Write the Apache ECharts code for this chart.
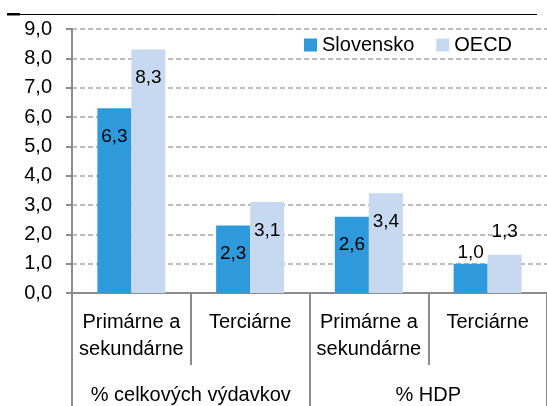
<!DOCTYPE html>
<html>
<head>
<meta charset="utf-8">
<script src="https://cdn.jsdelivr.net/npm/echarts@6/dist/echarts.min.js"></script>
<style>
  html, body { margin: 0; padding: 0; background: #fff; }
  #chart { width: 547px; height: 406px; }
</style>
</head>
<body>
<div id="chart"></div>
<script>
// kategórie a skupiny
const categories = ["Primárne a\nsekundárne", "Terciárne", "Primárne a\nsekundárne", "Terciárne"];
const groups = ["% celkových výdavkov", "% HDP"];
const slovensko = [6.3, 2.3, 2.6, 1.0];
const oecd = [8.3, 3.1, 3.4, 1.3];
const seriesNames = ["Slovensko", "OECD"];

const font = "'Liberation Sans', Arial, sans-serif";
const gray = "#8c8c8c";

const chart = echarts.init(document.getElementById("chart"));

// popisky v poslednej skupine sú nad stĺpcami
function withLabels(values, lastDistance) {
  return values.map((v, i) => {
    if (i === values.length - 1) {
      return { value: v, label: { position: "top", distance: lastDistance } };
    }
    return v;
  });
}

const fmt = (v) => Number(v).toFixed(1).replace(".", ",");

chart.setOption({
  animation: false,
  textStyle: { fontFamily: font },
  grid: { left: 72, top: 29, width: 482, height: 264 },
  legend: {
    left: 304,
    top: 35,
    padding: 0,
    icon: "rect",
    itemWidth: 13,
    itemHeight: 13,
    itemGap: 22,
    textStyle: { fontFamily: font, fontSize: 20, color: "#000", lineHeight: 20 },
    data: seriesNames,
  },
  graphic: [
    { type: "line", shape: { x1: 20, y1: 14.5, x2: 537, y2: 14.5 }, style: { stroke: "#000", lineWidth: 1 } },
    { type: "rect", shape: { x: 7, y: 13, width: 13, height: 2.5 }, style: { fill: "#000" } },
  ],
  xAxis: [
    {
      type: "category",
      data: categories,
      position: "bottom",
      axisLine: { show: true, lineStyle: { color: gray, width: 2 } },
      axisTick: { show: true, length: 72, lineStyle: { color: gray, width: 2 } },
      axisLabel: {
        interval: 0,
        margin: 16,
        color: "#000",
        fontFamily: font,
        fontSize: 20,
        lineHeight: 27,
      },
    },
    {
      type: "category",
      data: groups,
      position: "bottom",
      axisLine: { show: false },
      axisTick: { show: true, length: 115, lineStyle: { color: gray, width: 2 } },
      axisLabel: {
        interval: 0,
        margin: 91,
        color: "#000",
        fontFamily: font,
        fontSize: 20,
        lineHeight: 22,
      },
    },
  ],
  yAxis: {
    type: "value",
    min: 0,
    max: 9,
    interval: 1,
    axisLine: { show: true, lineStyle: { color: gray, width: 2 } },
    axisTick: { show: true, length: 6, lineStyle: { color: gray, width: 2 } },
    axisLabel: {
      margin: 20,
      color: "#000",
      fontFamily: font,
      fontSize: 20,
      formatter: fmt,
    },
    splitLine: {
      show: true,
      lineStyle: { color: "#a6a6a6", width: 1.5, type: [5, 3] },
    },
  },
  series: [
    {
      name: seriesNames[0],
      type: "bar",
      xAxisIndex: 0,
      barWidth: 34,
      barGap: "0%",
      itemStyle: { color: "#2e9adc" },
      label: {
        show: true,
        position: "insideTop",
        distance: 19,
        color: "#000",
        fontFamily: font,
        fontSize: 19,
        formatter: (p) => fmt(p.value),
      },
      data: withLabels(slovensko, 1),
    },
    {
      name: seriesNames[1],
      type: "bar",
      xAxisIndex: 0,
      barWidth: 34,
      barGap: "0%",
      itemStyle: { color: "#c6d9f1" },
      label: {
        show: true,
        position: "insideTop",
        distance: 19,
        color: "#000",
        fontFamily: font,
        fontSize: 19,
        formatter: (p) => fmt(p.value),
      },
      data: withLabels(oecd, 14),
    },
  ],
});
</script>
</body>
</html>
